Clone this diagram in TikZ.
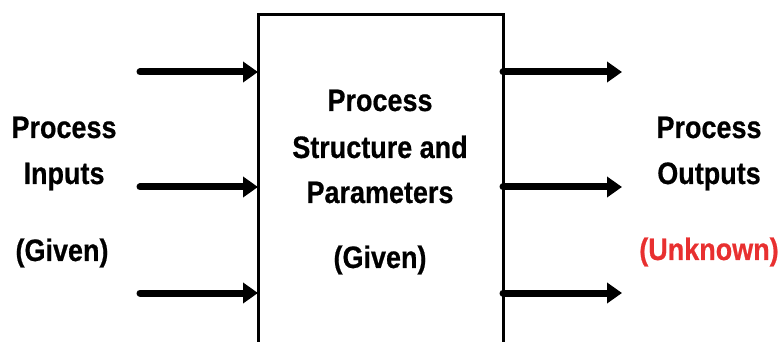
\documentclass[tikz,border=0pt]{standalone}
\usepackage{fontspec}
\setmainfont{Liberation Sans}[FakeStretch=0.87, BoldFeatures={FakeBold=0.6}]
\usetikzlibrary{arrows.meta, positioning}
\definecolor{unkred}{RGB}{232,48,48}

\begin{document}
\begin{tikzpicture}[x=1pt, y=-1pt, line cap=round,
            >={Triangle[length=15pt, width=20pt]},
            flow/.style={->, line width=7pt},
            lbl/.style={font=\bfseries\fontsize{31}{46}\selectfont, inner sep=0pt, anchor=base}]
            \useasboundingbox (0, 0) rectangle (780, 342);
            \clip (0, 0) rectangle (780, 342);

            % the process block (open at the bottom of the page)
            \node[draw, line width=3pt, outer sep=0pt, inner sep=0pt, anchor=north,
                  minimum width=245pt, minimum height=400pt] (proc) at (380.5, 14.5) {};

            % inputs
            \coordinate (inA) at (140, 72);
            \coordinate (inB) at (140, 187);
            \coordinate (inC) at (140, 293);
            \draw[flow] (inA) -- (inA -| proc.west);
            \draw[flow] (inB) -- (inB -| proc.west);
            \draw[flow] (inC) -- (inC -| proc.west);

            % outputs
            \coordinate (outA) at (622, 72);
            \coordinate (outB) at (622, 187);
            \coordinate (outC) at (622, 293);
            \draw[flow] (outA -| proc.east) -- (outA);
            \draw[flow] (outB -| proc.east) -- (outB);
            \draw[flow] (outC -| proc.east) -- (outC);

            % labels
            \node[lbl] (inTop) at (64, 138) {Process};
            \node[lbl] (inMid) at (64, 184) {Inputs};
            \node[lbl] (inBot) at (62, 261) {(Given)};

            \node[lbl] (procA) at (380, 111) {Process};
            \node[lbl] (procB) at (380, 158) {Structure and};
            \node[lbl] (procC) at (380, 203) {Parameters};
            \node[lbl] (procD) at (380, 268) {(Given)};

            \node[lbl] (outTop) at (709, 138) {Process};
            \node[lbl] (outMid) at (709, 184) {Outputs};
            \node[lbl, text=unkred] (outBot) at (709, 260) {(Unknown)};
\end{tikzpicture}
\end{document}
